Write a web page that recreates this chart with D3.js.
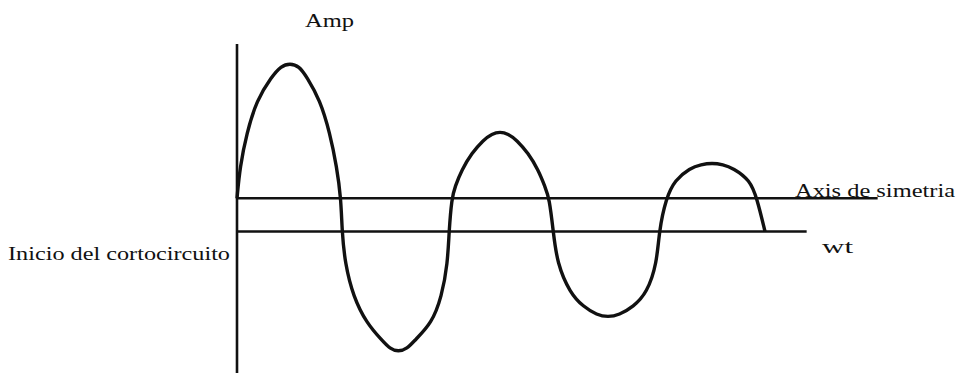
<!DOCTYPE html>
<html>
<head>
<meta charset="utf-8">
<script src="https://cdn.jsdelivr.net/npm/d3@7"></script>
<style>
  body { margin: 0; background: #fff; }
</style>
</head>
<body>
<script>
/* DATA */
// wt in degrees, amplitude in arbitrary units
var wt  = [0, 5.1, 16.5, 33.6, 59.1, 75, 90.3, 105.7, 118.8, 141.5, 158.5, 169.9, 177.3, 179,
           184.1, 198.2, 221.1, 246.6, 260.8, 274.9, 289.8, 303.4, 331.8, 348.9, 359.1, 361.4,
           366, 371.6, 383, 400, 419.8, 434.7, 448.3, 462, 476.8, 496.5, 513.6, 525, 532.4, 539.1,
           545.5, 567.6, 590.3, 613.6, 632.4, 651.1, 675.5, 698.8, 715.9, 719.3,
           731.2, 746.5, 772.1, 791.2, 809.6, 828.4, 845.4, 874.4, 886.3, 900];
var amp = [0.332, 0.648, 0.982, 1.315, 1.548, 1.655, 1.682, 1.655, 1.548, 1.315, 0.982, 0.648, 0.332, 0,
           -0.318, -0.652, -0.918, -1.085, -1.175, -1.202, -1.175, -1.085, -0.918, -0.652, -0.318, 0,
           0.332, 0.448, 0.615, 0.782, 0.915, 0.978, 0.998, 0.978, 0.915, 0.782, 0.615, 0.448, 0.332, 0,
           -0.315, -0.615, -0.752, -0.835, -0.855, -0.835, -0.752, -0.615, -0.315, 0,
           0.332, 0.515, 0.635, 0.67, 0.685, 0.67, 0.635, 0.515, 0.332, 0];

var symLevel = 0.332;     // axis de simetria
var symEnd = 1092;        // where the symmetry line stops
var wtEnd = 971;          // where the wt line stops
var ampTop = 1.875, ampBottom = -1.415;

var labels = ["Amp", "Axis de simetria", "wt", "Inicio del cortocircuito"];

var width = 965, height = 375;
var serif = "'Liberation Serif', 'DejaVu Serif', 'Times New Roman', serif";

var x = d3.scaleLinear().domain([0, 900]).range([237, 765]);
var y = d3.scaleLinear().domain([ampBottom, ampTop]).range([373, 44]);

var svg = d3.select("body").append("svg")
    .attr("width", width)
    .attr("height", height);

// vertical amplitude axis
svg.append("line")
    .attr("x1", x(0)).attr("x2", x(0))
    .attr("y1", y(ampTop)).attr("y2", y(ampBottom))
    .attr("stroke", "#111").attr("stroke-width", 2.6);

// axis de simetria
svg.append("line")
    .attr("x1", x(0)).attr("x2", x(symEnd))
    .attr("y1", y(symLevel)).attr("y2", y(symLevel))
    .attr("stroke", "#111").attr("stroke-width", 2.4);

// wt axis
svg.append("line")
    .attr("x1", x(0)).attr("x2", x(wtEnd))
    .attr("y1", y(0)).attr("y2", y(0))
    .attr("stroke", "#111").attr("stroke-width", 2.4);

// the current curve
var pts = wt.map(function(d, i) { return [d, amp[i]]; });
var line = d3.line()
    .x(function(d) { return x(d[0]); })
    .y(function(d) { return y(d[1]); })
    .curve(d3.curveBasis);

svg.append("path")
    .datum(pts)
    .attr("d", line)
    .attr("fill", "none")
    .attr("stroke", "#111")
    .attr("stroke-width", 3.4)
    .attr("stroke-linejoin", "round");

// text labels (scan is stretched sideways, so fit each to its width)
function label(t, lx, ly, w) {
  svg.append("text")
      .attr("x", lx).attr("y", ly)
      .attr("font-family", serif)
      .attr("font-size", 19)
      .attr("fill", "#111")
      .attr("textLength", w)
      .attr("lengthAdjust", "spacingAndGlyphs")
      .text(t);
}
label(labels[0], 305, 27, 49);
label(labels[1], 795, 197, 160);
label(labels[2], 822, 253, 31);
label(labels[3], 8, 260, 222);
</script>
</body>
</html>
